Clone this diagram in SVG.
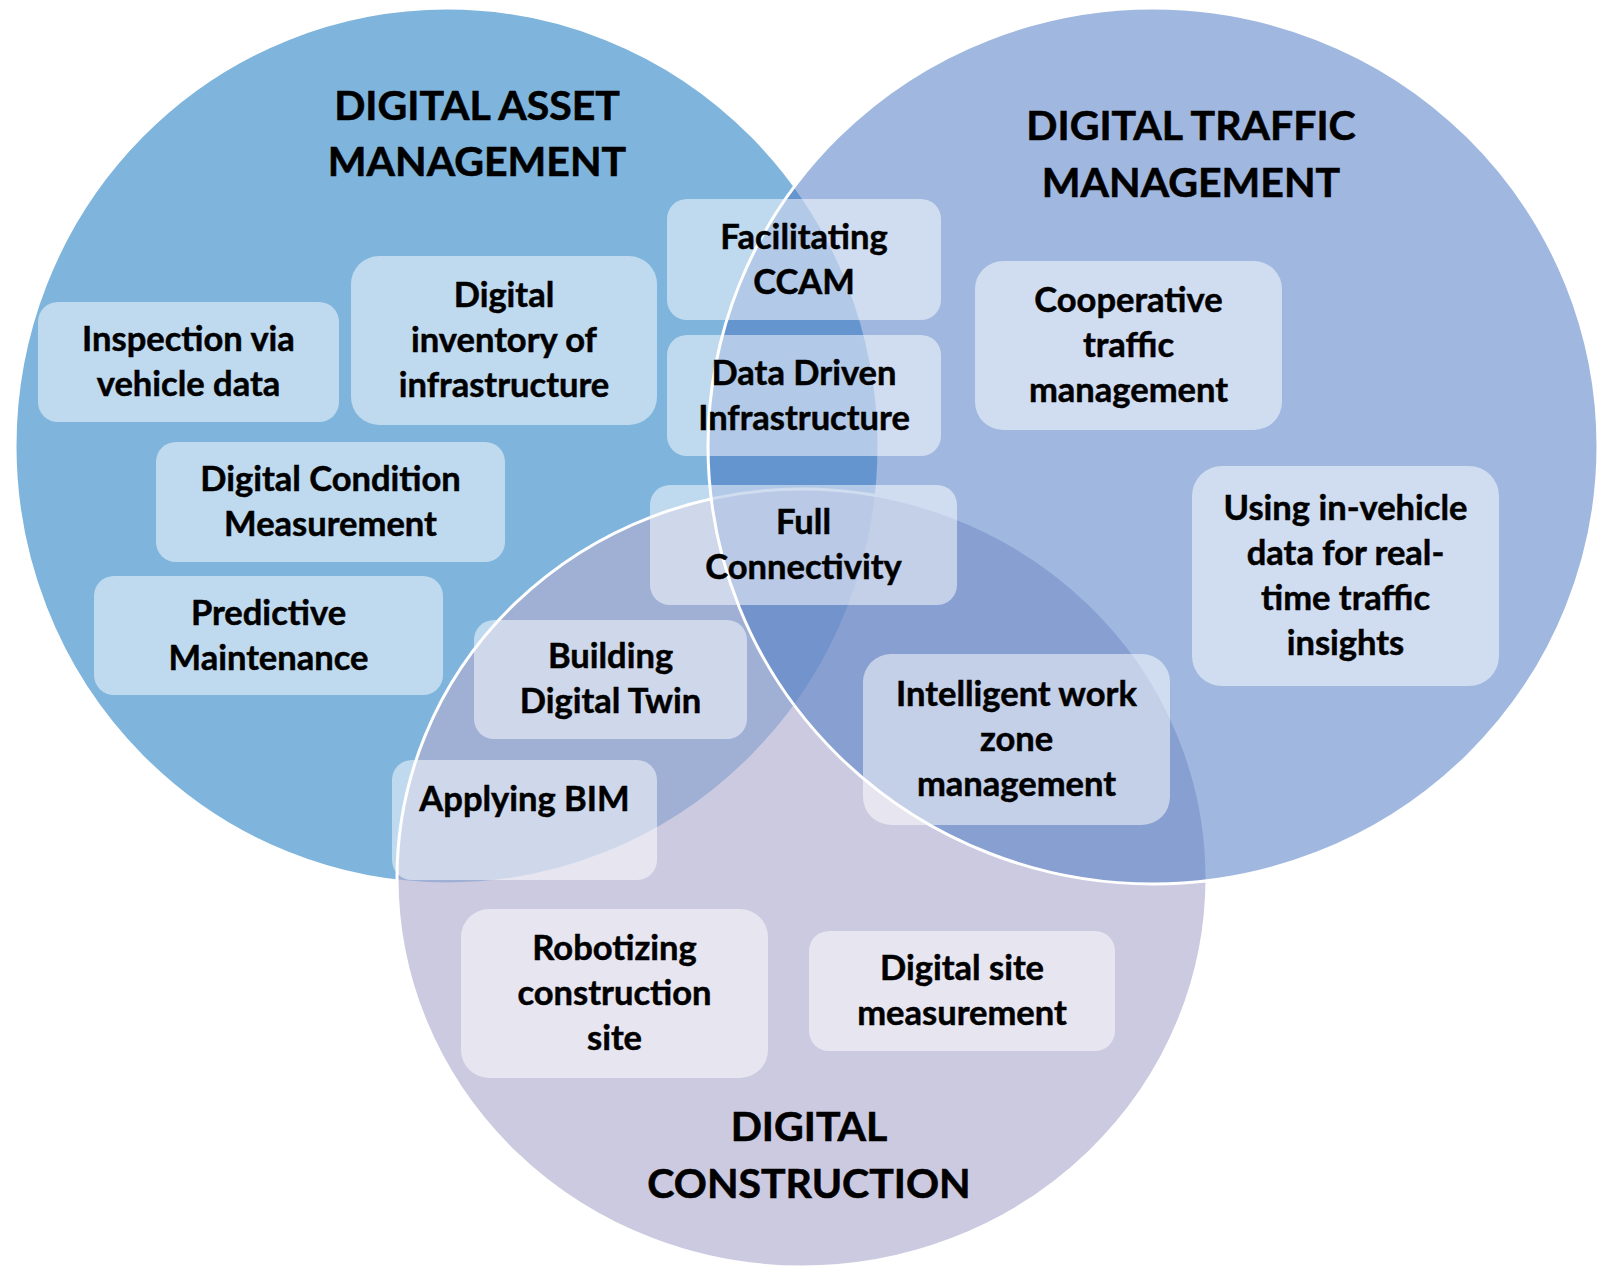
<svg xmlns="http://www.w3.org/2000/svg" width="1603" height="1268" viewBox="0 0 1603 1268">
<style>
.set{stroke:#ffffff;stroke-width:3}
.title{font-family:Lato,"Liberation Sans",sans-serif;font-weight:700;font-size:41px;fill:#000;stroke:#000;stroke-width:0.6;text-anchor:middle}
.box{fill:#ffffff;fill-opacity:0.5}
.lbl{font-family:Lato,"Liberation Sans",sans-serif;font-weight:700;font-size:34.5px;fill:#000;stroke:#000;stroke-width:0.5;text-anchor:middle}
</style>
<rect width="1603" height="1268" fill="#ffffff"/>
<g id="set-asset">
<ellipse class="set" cx="447" cy="446" rx="432" ry="438" fill="#7FB5DC"/>
</g>
<g id="set-construction">
<ellipse class="set" cx="802" cy="878" rx="405" ry="389" fill="#B1ADCF" fill-opacity="0.65"/>
</g>
<g id="set-traffic">
<ellipse class="set" cx="1153" cy="446" rx="445" ry="438" fill="#4C79C5" fill-opacity="0.53"/>
</g>
<g id="titles">
<text class="title" x="477" y="120">DIGITAL ASSET</text>
<text class="title" x="477" y="176">MANAGEMENT</text>
<text class="title" x="1191" y="140">DIGITAL TRAFFIC</text>
<text class="title" x="1191" y="197">MANAGEMENT</text>
<text class="title" x="809" y="1141">DIGITAL</text>
<text class="title" x="809" y="1198">CONSTRUCTION</text>
</g>
<g id="n-inspection">
<rect class="box" x="38" y="302" width="301" height="120" rx="20" fill-opacity="0.4"/>
<text class="lbl" x="188.5" y="351">Inspection via</text>
<text class="lbl" x="188.5" y="396">vehicle data</text>
</g>
<g id="n-inventory">
<rect class="box" x="351" y="256" width="306" height="169" rx="28"/>
<text class="lbl" x="504" y="307">Digital</text>
<text class="lbl" x="504" y="352">inventory of</text>
<text class="lbl" x="504" y="397">infrastructure</text>
</g>
<g id="n-ccam">
<rect class="box" x="667" y="199" width="274" height="121" rx="20"/>
<text class="lbl" x="804" y="249">Facilitating</text>
<text class="lbl" x="804" y="294">CCAM</text>
</g>
<g id="n-datadriven">
<rect class="box" x="667" y="335" width="274" height="121" rx="20"/>
<text class="lbl" x="804" y="385">Data Driven</text>
<text class="lbl" x="804" y="430">Infrastructure</text>
</g>
<g id="n-cooperative">
<rect class="box" x="975" y="261" width="307" height="169" rx="28"/>
<text class="lbl" x="1128.5" y="312">Cooperative</text>
<text class="lbl" x="1128.5" y="357">traffic</text>
<text class="lbl" x="1128.5" y="402">management</text>
</g>
<g id="n-condition">
<rect class="box" x="156" y="442" width="349" height="120" rx="20"/>
<text class="lbl" x="330.5" y="491">Digital Condition</text>
<text class="lbl" x="330.5" y="536">Measurement</text>
</g>
<g id="n-predictive">
<rect class="box" x="94" y="576" width="349" height="119" rx="20"/>
<text class="lbl" x="268.5" y="625">Predictive</text>
<text class="lbl" x="268.5" y="670">Maintenance</text>
</g>
<g id="n-connectivity">
<rect class="box" x="650" y="485" width="307" height="120" rx="20"/>
<text class="lbl" x="803.5" y="534">Full</text>
<text class="lbl" x="803.5" y="579">Connectivity</text>
</g>
<g id="n-invehicle">
<rect class="box" x="1192" y="466" width="307" height="220" rx="30"/>
<text class="lbl" x="1345.5" y="520">Using in-vehicle</text>
<text class="lbl" x="1345.5" y="565">data for real-</text>
<text class="lbl" x="1345.5" y="610">time traffic</text>
<text class="lbl" x="1345.5" y="655">insights</text>
</g>
<g id="n-twin">
<rect class="box" x="474" y="620" width="273" height="119" rx="20"/>
<text class="lbl" x="610.5" y="668">Building</text>
<text class="lbl" x="610.5" y="713">Digital Twin</text>
</g>
<g id="n-workzone">
<rect class="box" x="863" y="654" width="307" height="171" rx="28"/>
<text class="lbl" x="1016.5" y="706">Intelligent work</text>
<text class="lbl" x="1016.5" y="751">zone</text>
<text class="lbl" x="1016.5" y="796">management</text>
</g>
<g id="n-bim">
<rect class="box" x="392" y="760" width="265" height="120" rx="20"/>
<text class="lbl" x="524.5" y="811">Applying BIM</text>
</g>
<g id="n-robotizing">
<rect class="box" x="461" y="909" width="307" height="169" rx="28"/>
<text class="lbl" x="614.5" y="960">Robotizing</text>
<text class="lbl" x="614.5" y="1005">construction</text>
<text class="lbl" x="614.5" y="1050">site</text>
</g>
<g id="n-sitemeasure">
<rect class="box" x="809" y="931" width="306" height="120" rx="20"/>
<text class="lbl" x="962" y="980">Digital site</text>
<text class="lbl" x="962" y="1025">measurement</text>
</g>
</svg>
